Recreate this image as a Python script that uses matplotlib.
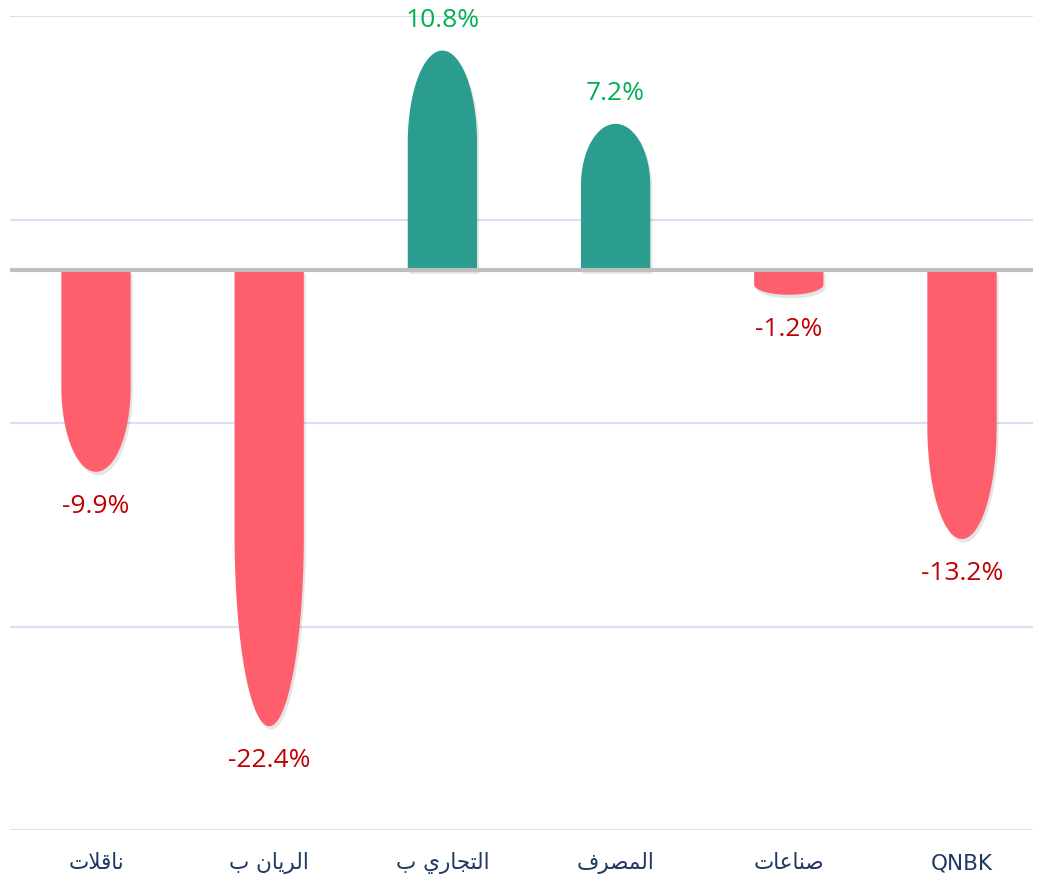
import numpy as np
import matplotlib
matplotlib.use("Agg")
from matplotlib import pyplot as plt
from matplotlib.path import Path
from matplotlib.patches import PathPatch
import matplotlib.patheffects as pe


# Data
categories = ["ناقلات", "الريان ب", "التجاري ب", "المصرف", "صناعات", "QNBK"]
values = [-9.9, -22.4, 10.8, 7.2, -1.2, -13.2]
yTicks = [-27.5, -17.5, -7.5, 2.5, 12.5]

# Colors
posBar = "#2A9D8F"
negBar = "#FF5F6D"
posText = "#00B050"
negText = "#C00000"
labelColor = "#1F3864"
gridColor = "#D6E2F4"
zeroColor = "#BFBFBF"


# Arabic presentation forms: isolated, final, initial, medial
FORMS = {
    'ا': ('\uFE8D', '\uFE8E', None, None),
    'ب': ('\uFE8F', '\uFE90', '\uFE91', '\uFE92'),
    'ت': ('\uFE95', '\uFE96', '\uFE97', '\uFE98'),
    'ج': ('\uFE9D', '\uFE9E', '\uFE9F', '\uFEA0'),
    'ر': ('\uFEAD', '\uFEAE', None, None),
    'ص': ('\uFEB9', '\uFEBA', '\uFEBB', '\uFEBC'),
    'ع': ('\uFEC9', '\uFECA', '\uFECB', '\uFECC'),
    'ف': ('\uFED1', '\uFED2', '\uFED3', '\uFED4'),
    'ق': ('\uFED5', '\uFED6', '\uFED7', '\uFED8'),
    'ل': ('\uFEDD', '\uFEDE', '\uFEDF', '\uFEE0'),
    'م': ('\uFEE1', '\uFEE2', '\uFEE3', '\uFEE4'),
    'ن': ('\uFEE5', '\uFEE6', '\uFEE7', '\uFEE8'),
    'ي': ('\uFEF1', '\uFEF2', '\uFEF3', '\uFEF4'),
}


# Function to shape Arabic text for matplotlib (no bidi support there)
def shapeArabic(text):
    if not any(c in FORMS for c in text):
        return text
    chars = list(text)
    n = len(chars)
    out = []
    for i, c in enumerate(chars):
        if c not in FORMS:
            out.append(c)
            continue
        if c == 'ا' and i > 0 and chars[i - 1] == 'ل':
            continue
        prev = chars[i - 1] if i > 0 else None
        nxt = chars[i + 1] if i + 1 < n else None
        conPrev = prev in FORMS and FORMS[prev][2] is not None
        if c == 'ل' and nxt == 'ا':
            out.append('\uFEFC' if conPrev else '\uFEFB')
            continue
        conNext = FORMS[c][2] is not None and nxt in FORMS
        iso, fin, ini, med = FORMS[c]
        if conPrev and conNext:
            out.append(med)
        elif conPrev:
            out.append(fin)
        elif conNext:
            out.append(ini)
        else:
            out.append(iso)
    return ''.join(reversed(out))


# Function to build a bullet shaped bar (rectangle with elliptical cap)
def bulletPath(x, value, width=0.4, capFrac=0.42):
    half = width / 2
    cap = abs(value) * capFrac
    sign = np.sign(value)
    yStart = value - sign * cap
    theta = np.linspace(np.pi, 0, 80)
    arcX = x + half * np.cos(theta)
    arcY = yStart + sign * cap * np.sin(theta)
    xs = np.concatenate([[x - half], arcX, [x + half, x - half]])
    ys = np.concatenate([[0], arcY, [0, 0]])
    verts = np.column_stack([xs, ys])
    codes = [Path.MOVETO] + [Path.LINETO] * (len(verts) - 2) + [Path.CLOSEPOLY]
    return Path(verts, codes)


fig = plt.figure(figsize=(10.43, 8.82), dpi=100)
ax = fig.add_axes([10 / 1043, 1 - 830 / 882, 1023 / 1043, 814 / 882])

ax.set_xlim(-0.4965, 5.41)
ax.set_ylim(yTicks[0], yTicks[-1])

for t in yTicks:
    ax.axhline(t, color=gridColor, lw=1.5, zorder=0)

shadow = [pe.SimplePatchShadow(offset=(1.5, -2.5), shadow_rgbFace="#000000", alpha=0.10), pe.Normal()]

for i, v in enumerate(values):
    color = posBar if v > 0 else negBar
    patch = PathPatch(bulletPath(i, v), facecolor=color, edgecolor="none", zorder=2)
    patch.set_path_effects(shadow)
    ax.add_patch(patch)
    ax.annotate(f"{v:.1f}%", (i, v), xytext=(0, 22 if v > 0 else -25),
                textcoords="offset points", ha="center", va="center",
                fontsize=19, family=["Open Sans", "DejaVu Sans"],
                color=posText if v > 0 else negText, zorder=4)

ax.axhline(0, color=zeroColor, lw=3, zorder=3)

# Category labels below the axis
for i, name in enumerate(categories):
    ax.annotate(shapeArabic(name), (i, yTicks[0]), xytext=(0, -24),
                textcoords="offset points", ha="center", va="center",
                fontsize=15.5, color=labelColor, family=["DejaVu Sans"],
                annotation_clip=False)

ax.axis('off')
fig.savefig("out.png", dpi=100)
